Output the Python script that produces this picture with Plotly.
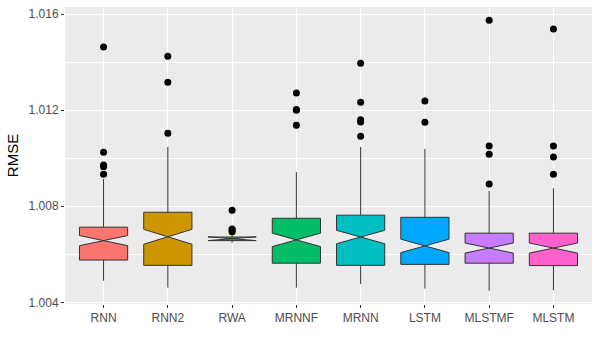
import plotly.graph_objects as go

models = ["RNN", "RNN2", "RWA", "MRNNF", "MRNN", "LSTM", "MLSTMF", "MLSTM"]
colors = ["#F8766D", "#CD9600", "#7CAE00", "#00BE67", "#00BFC4", "#00A9FF", "#C77CFF", "#FF61CC"]

lower = [1.00490, 1.00461, 1.00648, 1.00461, 1.00476, 1.00457, 1.00448, 1.00451]
q1 = [1.00576, 1.00554, 1.00657, 1.00563, 1.00554, 1.00558, 1.00563, 1.00553]
median = [1.00657, 1.00673, 1.00665, 1.00660, 1.00672, 1.00635, 1.00626, 1.00626]
q3 = [1.00713, 1.00775, 1.00672, 1.00750, 1.00763, 1.00754, 1.00688, 1.00688]
upper = [1.00914, 1.01047, 1.00685, 1.00942, 1.01047, 1.01039, 1.00864, 1.00875]
notch = [0.00021, 0.00031, 0.00008, 0.00028, 0.00028, 0.00028, 0.00021, 0.00021]

outliers = {
    "RNN": [1.01463, 1.01025, 1.00972, 1.00965, 1.00933],
    "RNN2": [1.01425, 1.01317, 1.01104],
    "RWA": [1.00783, 1.00705, 1.00700, 1.00694],
    "MRNNF": [1.01272, 1.01203, 1.01200, 1.01138],
    "MRNN": [1.01396, 1.01233, 1.01160, 1.01151, 1.01092],
    "LSTM": [1.01238, 1.01150],
    "MLSTMF": [1.01575, 1.01051, 1.01017, 1.00893],
    "MLSTM": [1.01538, 1.01051, 1.01005, 1.00933],
}

fig = go.Figure()

for i, m in enumerate(models):
    fig.add_trace(go.Box(
        x=[m], q1=[q1[i]], median=[median[i]], q3=[q3[i]],
        lowerfence=[lower[i]], upperfence=[upper[i]],
        notched=True, notchspan=[notch[i]], notchwidth=0.5,
        fillcolor=colors[i], line=dict(color="#333333", width=1),
        whiskerwidth=0, width=0.75, boxpoints=False, showlegend=False,
    ))

# outlier points
ox, oy = [], []
for m in models:
    for v in outliers[m]:
        ox.append(m)
        oy.append(v)
fig.add_trace(go.Scatter(
    x=ox, y=oy, mode="markers",
    marker=dict(color="black", size=7), showlegend=False, hoverinfo="y",
))

fig.update_layout(
    width=600, height=350,
    margin=dict(l=65, r=8, t=7, b=46),
    paper_bgcolor="white", plot_bgcolor="#EBEBEB",
    boxmode="overlay",
    font=dict(family="Liberation Sans, Arial, sans-serif", color="#4D4D4D", size=12),
)
fig.update_xaxes(
    type="category", categoryorder="array", categoryarray=models,
    range=[-0.6, 7.6], showgrid=True, gridcolor="white", gridwidth=1,
    ticks="outside", ticklen=3, tickcolor="#333333", zeroline=False,
    showline=False, automargin=False,
)
fig.update_yaxes(
    range=[1.00393, 1.01630], tickvals=[1.004, 1.008, 1.012, 1.016],
    tickformat=".3f", showgrid=True, gridcolor="white", gridwidth=1.2,
    minor=dict(dtick=0.002, tick0=1.004, showgrid=True, gridcolor="white", gridwidth=0.6),
    ticks="outside", ticklen=3, tickcolor="#333333", zeroline=False,
    automargin=False,
    title=dict(text="RMSE", font=dict(size=15, color="black"), standoff=6),
)

fig.write_html("out.html", config={"displayModeBar": False},
               post_script="document.body.style.margin='0';")
